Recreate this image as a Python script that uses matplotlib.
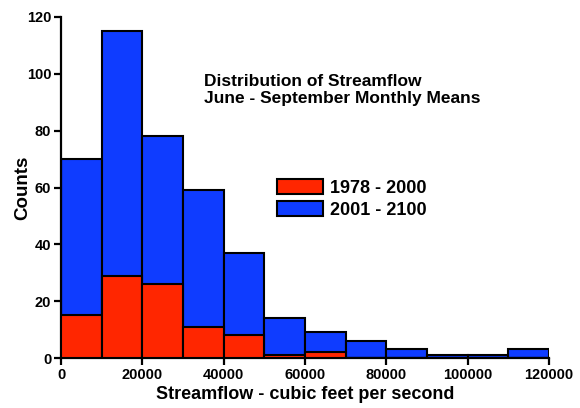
import matplotlib
matplotlib.use("Agg")
import matplotlib.pyplot as plt
import numpy as np

bin_edges = [0, 10000, 20000, 30000, 40000, 50000, 60000, 70000, 80000, 90000, 100000, 110000]
counts_2001_2100 = [70, 115, 78, 59, 37, 14, 9, 6, 3, 1, 1, 3]
counts_1978_2000 = [15, 29, 26, 11, 8, 1, 2, 0, 0, 0, 0, 0]
xticks = [0, 20000, 40000, 60000, 80000, 100000, 120000]
yticks = [0, 20, 40, 60, 80, 100, 120]

plt.rcParams['font.family'] = ['Liberation Sans', 'DejaVu Sans']
plt.rcParams['font.weight'] = 'bold'

fig = plt.figure(figsize=(5.8, 4.08), dpi=100)
ax = fig.add_axes([61/580, 1-358/408, (549-61)/580, (358-17)/408])

blue = '#0f3cff'
red = '#ff2600'
ax.bar(bin_edges, counts_2001_2100, width=10000, align='edge', color=blue,
       edgecolor='black', linewidth=1.5, label='2001 - 2100', zorder=2)
ax.bar(bin_edges, counts_1978_2000, width=10000, align='edge', color=red,
       edgecolor='black', linewidth=1.5, label='1978 - 2000', zorder=3)

ax.set_xlim(0, 120000)
ax.set_ylim(0, 120)
ax.set_xticks(xticks)
ax.set_yticks(yticks)
ax.set_xticklabels([str(v) for v in xticks], fontsize=10.5, fontweight='bold')
ax.set_yticklabels([str(v) for v in yticks], fontsize=10.5, fontweight='bold')
ax.spines['top'].set_visible(False)
ax.spines['right'].set_visible(False)
for s in ['left', 'bottom']:
    ax.spines[s].set_linewidth(1.6)
ax.tick_params(direction='out', length=5, width=1.6, pad=2)

ax.set_xlabel('Streamflow - cubic feet per second', fontsize=13, fontweight='bold', labelpad=3)
ax.set_ylabel('Counts', fontsize=13.5, fontweight='bold')
ax.yaxis.set_label_coords((31-61)/488, 0.5)

fig.text(204/580, 1-90/408, 'Distribution of Streamflow\nJune - September Monthly Means',
         fontsize=12.5, fontweight='bold', va='center', ha='left', linespacing=1.15)

handles, labels = ax.get_legend_handles_labels()
leg = ax.legend(handles[::-1], labels[::-1], loc='upper left',
                bbox_to_anchor=((268-61)/488, 1-(170-17)/341), frameon=False,
                prop={'size': 13, 'weight': 'bold'}, handlelength=2.55, handleheight=0.9,
                handletextpad=0.4, labelspacing=0.25, borderpad=0)

fig.savefig('out.png', dpi=100)
